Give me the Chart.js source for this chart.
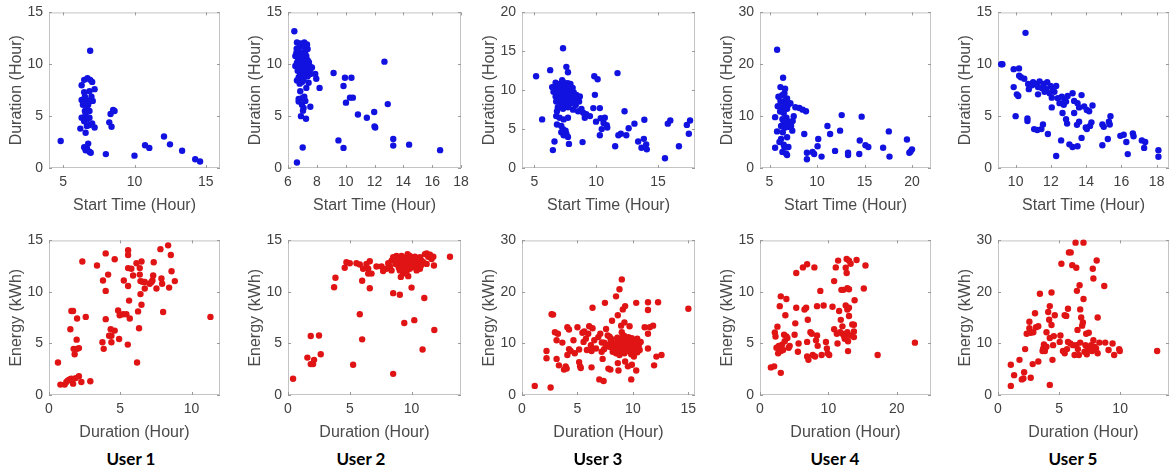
<!DOCTYPE html>
<html>
<head>
<meta charset="utf-8">
<script src="https://cdn.jsdelivr.net/npm/chart.js@4.4.1/dist/chart.umd.min.js"></script>
<style>
  body { margin: 0; background: #fff; width: 1169px; height: 472px; overflow: hidden; position: relative; }
  canvas { position: absolute; }
  .user { position: absolute; top: 448px; transform: translateX(-50%); font-family: Lato, "Open Sans", sans-serif; font-weight: bold; font-size: 17px; color: #000; white-space: nowrap; }
</style>
</head>
<body>
<script>
// ---- data: [start hour, duration hour] (top row) ----
const user1Start = [[4.82,2.6],[6.89,11.3],[6.29,7.97],[6.47,8.5],[6.7,8.65],[6.89,8.5],[7.03,8.3],[6.84,7.4],[7.2,7.6],[6.47,7.3],[6.29,6.56],[6.43,6.4],[6.66,6.53],[6.84,6.4],[7.07,6.47],[6.38,6.1],[6.66,5.8],[6.84,5.5],[6.57,5.15],[6.29,4.84],[6.66,4.7],[6.84,4.84],[6.47,4.5],[6.2,3.8],[6.66,4.06],[7.03,4.3],[7.2,3.9],[6.57,3.4],[6.84,4.15],[6.47,2.0],[6.75,2.35],[6.66,1.9],[6.84,1.56],[6.93,1.47],[6.57,1.7],[6.52,5.5],[6.75,6.1],[6.52,6.87],[6.98,6.87],[8.5,5.6],[8.6,5.5],[8.32,5.2],[8.23,4.4],[8.39,3.97],[7.99,1.34],[10.0,1.19],[10.74,2.19],[11.04,1.94],[12.07,3.03],[12.49,2.28],[13.34,1.66],[14.26,0.84],[14.6,0.63]];
const user2Start = [[6.44,13.19],[6.62,0.53],[7.02,1.97],[6.9,5.0],[7.25,4.75],[7.55,5.9],[6.62,12.1],[6.85,12.0],[7.13,12.1],[7.32,11.9],[6.74,11.56],[6.58,11.1],[6.97,11.1],[7.2,11.25],[6.81,10.6],[7.08,10.47],[7.36,10.4],[6.62,10.16],[6.85,9.84],[7.2,10.0],[7.5,9.84],[7.66,9.69],[6.67,9.38],[6.97,9.22],[7.27,9.38],[7.55,9.06],[6.74,8.75],[7.08,8.6],[7.36,8.84],[6.62,8.44],[6.97,8.28],[7.43,8.22],[6.85,10.3],[7.13,9.7],[6.74,9.7],[6.51,10.8],[7.27,10.8],[7.04,11.7],[7.36,11.47],[6.85,9.06],[7.15,8.97],[7.55,9.53],[6.81,8.13],[6.51,9.84],[6.9,10.8],[7.08,10.94],[6.76,10.16],[7.27,10.16],[7.0,9.53],[7.32,9.22],[6.95,11.8],[7.18,10.6],[6.7,10.5],[7.4,9.5],[6.9,9.0],[7.05,8.45],[6.6,11.5],[7.45,10.2],[6.85,7.4],[6.74,6.66],[6.97,6.72],[7.13,6.88],[6.74,6.4],[6.97,6.1],[7.08,5.78],[7.04,5.53],[7.2,6.47],[7.27,7.72],[7.89,9.06],[7.96,8.6],[8.19,7.72],[9.16,9.16],[9.85,7.9],[9.95,8.7],[10.4,8.7],[10.02,6.3],[10.3,6.78],[10.5,6.78],[10.85,5.16],[11.47,4.84],[11.98,5.4],[12.0,4.0],[12.05,3.9],[12.69,10.25],[12.92,6.16],[9.5,2.66],[9.85,1.94],[13.3,2.8],[13.3,2.16],[14.4,2.25],[16.55,1.72]];
const user3Start = [[5.14,11.8],[5.63,6.25],[6.28,12.58],[6.5,2.3],[6.63,3.4],[7.32,15.4],[7.59,13.0],[7.72,12.3],[6.44,10.4],[6.72,10.96],[7.04,10.8],[7.37,11.0],[7.59,10.6],[7.92,10.8],[6.55,9.8],[6.9,10.1],[7.26,9.9],[7.53,9.6],[7.86,9.9],[8.19,9.7],[6.72,9.2],[7.04,9.0],[7.45,8.9],[7.8,9.0],[8.08,8.75],[8.46,8.96],[6.77,8.54],[7.18,8.3],[7.59,8.1],[8.0,8.3],[8.35,8.1],[8.62,8.54],[6.9,7.8],[7.32,7.6],[7.72,7.8],[8.13,7.5],[8.54,7.3],[8.81,7.6],[7.04,10.4],[7.45,10.3],[7.18,9.4],[7.59,9.3],[8.08,9.5],[6.55,10.3],[8.68,9.2],[7.15,10.6],[7.7,9.5],[7.4,8.6],[8.3,8.5],[6.95,9.6],[7.8,10.2],[7.0,10.2],[7.3,10.5],[7.6,10.0],[7.9,9.4],[8.2,9.0],[7.1,9.3],[7.5,8.8],[7.9,8.6],[6.9,10.7],[7.25,11.3],[7.7,10.9],[8.1,10.3],[8.4,9.4],[7.0,8.9],[6.83,7.3],[6.77,6.67],[7.04,6.46],[7.37,6.25],[7.72,6.46],[6.83,5.6],[7.18,5.4],[7.32,5.0],[7.53,4.8],[7.18,4.6],[7.59,4.4],[7.72,4.0],[7.8,3.1],[7.37,4.2],[8.95,7.1],[9.2,6.9],[9.08,6.46],[9.5,6.67],[8.9,3.33],[9.85,11.8],[10.12,11.4],[9.9,9.4],[9.77,7.7],[10.3,7.7],[9.99,5.96],[10.37,6.4],[10.6,5.8],[10.7,6.46],[10.45,5.0],[10.3,4.2],[10.86,5.5],[10.9,5.2],[11.73,12.2],[11.54,2.8],[11.8,4.2],[12.0,4.4],[12.3,7.3],[12.44,4.2],[12.63,5.1],[13.1,5.7],[13.4,3.4],[13.67,2.6],[13.86,3.75],[13.9,6.2],[14.05,3.04],[14.1,2.4],[15.57,1.25],[15.8,5.7],[16.0,6.1],[16.7,2.8],[17.34,5.54],[17.5,4.4],[17.6,6.1]];
const user4Start = [[5.8,22.8],[5.59,3.9],[5.59,9.8],[6.43,17.4],[6.15,15.6],[6.64,15.3],[5.94,13.75],[6.33,14.06],[6.57,14.4],[6.85,13.4],[6.15,12.9],[6.5,12.8],[5.87,11.9],[6.22,11.7],[6.64,12.06],[6.99,12.2],[7.2,12.5],[6.12,10.9],[6.5,10.6],[6.85,11.4],[6.36,9.4],[6.78,9.7],[6.5,8.75],[6.99,8.56],[6.22,8.1],[6.64,7.8],[6.99,7.94],[7.27,8.1],[5.8,7.06],[6.4,6.9],[6.85,5.94],[6.22,5.6],[6.05,5.0],[6.5,4.5],[6.99,4.06],[6.36,3.1],[6.74,2.8],[6.85,2.5],[6.57,4.06],[6.7,13.0],[6.45,11.2],[6.9,9.0],[7.55,10.0],[7.44,9.06],[7.4,7.2],[7.72,11.7],[8.14,11.56],[8.49,11.25],[8.84,10.94],[8.66,6.56],[8.94,2.94],[8.94,1.69],[9.53,3.1],[9.7,2.7],[10.06,4.2],[10.13,5.6],[10.48,2.2],[11.1,8.1],[11.38,6.56],[11.9,3.3],[12.43,7.2],[12.6,10.2],[13.27,2.94],[13.27,2.5],[14.45,2.7],[14.5,5.3],[14.7,9.9],[15.1,4.4],[15.4,4.06],[16.96,3.9],[17.56,7.06],[17.63,2.2],[19.47,5.5],[19.72,2.94],[20.0,3.6],[19.85,3.2]];
const user5Start = [[9.18,10.0],[9.25,10.0],[10.56,13.03],[9.89,9.53],[10.19,9.6],[10.2,8.9],[9.89,7.8],[10.0,5.0],[10.3,8.75],[10.07,7.1],[10.15,6.94],[10.49,8.6],[10.71,8.1],[10.99,8.28],[11.18,8.1],[11.36,8.34],[10.75,7.6],[10.93,7.97],[11.27,7.8],[11.6,8.1],[11.79,8.28],[11.5,7.7],[11.74,7.6],[11.98,7.9],[12.1,7.7],[12.2,7.34],[11.93,7.2],[11.64,7.34],[11.27,7.1],[12.05,6.78],[12.3,7.9],[12.05,5.84],[10.67,4.78],[10.67,4.53],[11.05,3.75],[11.23,3.66],[11.46,3.75],[11.55,4.2],[11.83,3.28],[12.3,1.16],[12.58,2.66],[13.05,2.28],[13.23,2.03],[13.51,2.1],[13.74,2.9],[12.39,6.72],[12.62,6.88],[12.77,6.56],[12.49,6.25],[12.73,6.1],[12.86,6.4],[12.95,6.94],[12.66,5.3],[12.86,4.7],[12.92,4.28],[13.23,7.2],[13.74,7.03],[13.32,6.47],[13.51,6.25],[13.6,5.84],[13.32,5.3],[13.89,5.94],[14.04,5.6],[14.17,5.47],[14.36,6.03],[13.48,4.16],[13.6,4.47],[13.98,3.9],[14.04,3.75],[14.22,4.06],[14.3,4.4],[14.92,4.2],[15.0,3.97],[14.92,2.19],[15.23,2.8],[15.29,4.47],[15.38,5.0],[15.34,4.2],[15.94,3.1],[16.13,3.2],[16.28,2.5],[16.36,1.34],[16.65,3.34],[16.69,3.06],[17.16,2.66],[17.35,2.5],[17.29,1.94],[18.1,1.72],[18.1,1.09]];

// ---- data: [duration hour, energy kWh] (bottom row) ----
const user1Energy = [[0.63,3.16],[0.8,1.01],[1.1,1.01],[1.22,1.26],[1.45,1.52],[1.69,1.1],[1.87,1.64],[2.1,1.83],[2.27,1.26],[2.9,1.33],[1.33,1.42],[1.57,1.58],[1.5,6.38],[1.57,8.15],[1.69,8.15],[1.73,4.48],[1.8,3.95],[1.97,4.48],[2.1,4.55],[1.94,5.37],[1.97,7.42],[2.34,12.95],[2.58,7.58],[3.37,12.57],[3.75,5.12],[3.84,4.48],[3.79,11.11],[3.98,13.74],[3.98,10.1],[3.98,7.36],[4.15,11.68],[4.22,5.75],[4.38,5.75],[4.33,6.38],[4.61,6.25],[4.38,5.12],[4.61,13.17],[4.85,8.21],[4.96,7.74],[4.92,5.43],[5.2,7.83],[5.25,11.11],[5.43,7.83],[5.53,4.89],[5.55,12.31],[5.55,10.58],[5.55,14.05],[5.55,13.58],[5.62,9.16],[5.67,7.42],[5.78,12.25],[5.9,11.59],[6.18,3.16],[6.14,12.79],[6.25,8.11],[6.32,6.47],[6.37,12.31],[6.37,11.68],[6.42,9.79],[6.49,8.75],[6.42,11.05],[6.49,12.95],[6.56,10.99],[6.72,10.96],[6.72,10.33],[7.07,10.8],[7.26,11.11],[7.31,11.59],[7.35,12.88],[7.54,10.33],[7.19,10.96],[7.82,14.15],[7.89,11.3],[7.94,10.8],[8.01,8.05],[8.36,14.52],[8.43,10.42],[8.55,13.58],[8.6,12.0],[8.83,11.05],[11.33,7.58]];
const user2Energy = [[0.41,1.58],[1.57,3.63],[1.84,3.0],[2.03,3.0],[2.11,3.41],[1.84,5.72],[2.51,5.78],[2.65,3.95],[3.73,10.45],[3.84,11.37],[4.59,12.35],[4.73,12.88],[5.0,12.79],[5.27,2.94],[5.54,12.79],[5.81,12.66],[5.81,7.83],[6.0,11.08],[6.0,5.4],[6.08,12.25],[6.35,12.72],[6.49,12.25],[6.49,11.78],[6.62,12.98],[6.62,10.36],[6.76,11.78],[7.16,12.47],[7.57,12.47],[7.7,12.03],[7.97,12.25],[8.24,12.47],[8.38,12.09],[8.51,9.88],[8.51,2.05],[9.05,9.73],[9.41,6.98],[9.73,11.53],[10.0,10.42],[10.22,7.26],[11.03,9.41],[10.89,4.42],[11.84,6.31],[11.81,12.57],[13.11,13.42],[8.65,13.2],[8.78,12.88],[8.92,13.36],[9.05,13.04],[9.19,13.5],[9.32,13.2],[9.46,12.88],[9.59,13.36],[9.73,13.04],[9.86,13.5],[10.0,13.2],[10.14,12.88],[10.27,13.42],[10.41,13.04],[10.54,12.72],[8.92,12.57],[9.19,12.41],[9.46,12.25],[9.73,12.47],[9.05,12.09],[9.32,11.78],[9.59,11.94],[9.86,12.25],[10.14,12.41],[8.78,13.5],[8.38,13.04],[8.51,13.36],[8.11,12.79],[9.19,12.88],[9.51,12.66],[9.95,12.72],[9.68,13.67],[10.27,12.57],[10.68,13.36],[10.81,13.04],[11.08,13.67],[11.22,13.74],[11.35,13.42],[11.49,13.61],[11.62,13.2],[11.76,13.42],[10.95,12.88],[11.22,12.72],[9.13,11.46],[8.97,12.35],[9.41,13.11],[8.7,12.72],[9.78,13.29],[10.05,13.04],[10.49,13.2],[10.68,12.25],[10.41,12.09],[10.76,12.57],[8.86,13.11],[9.27,12.66],[9.54,13.04],[9.27,13.29],[9.65,12.79],[9.92,12.47]];
const user3Energy = [[1.15,1.77],[2.58,1.45],[2.21,8.53],[2.21,7.14],[2.67,15.67],[2.8,15.6],[2.97,12.19],[3.24,11.88],[3.12,10.61],[3.12,7.01],[3.33,5.75],[3.64,10.17],[3.79,4.93],[3.94,5.56],[4.03,5.12],[4.09,13.14],[4.24,12.7],[4.09,7.77],[4.24,8.91],[4.39,8.53],[4.64,10.61],[4.76,8.09],[5.0,13.14],[5.15,8.84],[5.15,6.38],[5.24,5.56],[5.3,5.24],[5.45,12.07],[5.55,10.3],[5.61,12.32],[5.76,10.93],[5.85,8.72],[5.97,11.88],[6.06,13.33],[6.21,9.67],[6.27,8.53],[6.36,12.95],[6.27,5.37],[6.36,16.93],[6.52,10.61],[6.67,9.03],[6.88,11.24],[7.06,11.88],[6.97,3.03],[7.18,8.4],[7.27,7.01],[7.36,2.72],[7.42,10.17],[7.48,17.88],[7.58,12.82],[7.73,11.56],[7.67,9.67],[7.79,5.12],[7.88,9.35],[7.97,4.93],[8.03,10.93],[8.12,14.4],[8.18,8.4],[8.27,9.67],[8.33,9.98],[8.39,8.91],[8.48,19.14],[8.58,10.93],[8.64,6.19],[8.64,15.48],[8.7,4.74],[8.79,20.53],[8.79,10.3],[8.88,8.4],[8.94,13.46],[9.0,12.19],[9.0,22.43],[9.09,16.61],[9.09,11.24],[9.18,9.35],[9.24,14.09],[9.3,17.25],[9.3,6.51],[9.39,9.98],[9.48,8.72],[9.55,5.56],[9.6,11.24],[9.7,13.33],[9.79,8.4],[9.85,9.67],[9.85,3.03],[9.91,5.87],[10.0,10.61],[10.09,7.45],[10.15,9.35],[10.3,4.74],[10.3,17.88],[10.39,10.93],[10.52,9.67],[10.61,8.72],[10.7,10.3],[8.33,8.91],[8.48,8.09],[8.7,8.53],[8.88,9.16],[9.09,8.91],[9.24,8.09],[9.39,8.53],[9.55,9.35],[9.7,8.91],[9.85,7.9],[8.55,9.67],[9.03,8.21],[9.33,9.35],[9.64,10.3],[10.0,8.53],[8.79,7.77],[9.18,10.61],[9.48,10.8],[9.79,9.98],[8.94,9.98],[7.2,10.2],[7.6,9.6],[8.0,10.5],[8.4,9.8],[8.6,11.1],[8.9,10.8],[9.2,11.5],[9.5,10.4],[9.9,11.0],[10.2,10.0],[10.5,9.2],[7.4,8.9],[8.1,9.2],[8.8,9.5],[9.6,9.0],[10.4,8.3],[7.9,11.3],[9.1,10.1],[11.06,13.14],[11.36,18.0],[11.36,16.49],[11.36,11.88],[11.36,9.03],[11.52,13.14],[11.82,13.46],[11.91,5.75],[12.12,7.45],[12.27,18.0],[12.58,7.77],[15.0,16.74]];
const user4Energy = [[1.59,2.68],[2.07,2.78],[2.17,6.06],[2.27,5.68],[2.55,6.63],[2.41,4.58],[2.65,4.04],[2.75,4.77],[2.89,8.62],[3.04,2.15],[3.04,9.57],[3.04,4.26],[3.23,4.89],[3.37,4.36],[3.52,5.84],[3.61,5.21],[3.71,7.74],[3.86,5.68],[3.86,9.31],[4.0,5.53],[4.19,4.58],[4.34,4.77],[5.06,5.84],[5.16,6.95],[5.3,11.84],[5.3,8.46],[5.54,4.2],[5.64,4.99],[6.27,12.38],[6.51,8.3],[6.75,8.46],[6.89,12.69],[6.89,3.73],[6.89,5.15],[6.99,7.3],[7.08,3.41],[7.37,6.09],[7.57,5.94],[7.71,3.88],[7.95,12.38],[8.05,3.73],[8.19,5.3],[8.34,8.62],[8.34,5.78],[8.43,4.77],[8.82,10.1],[9.01,3.88],[9.3,8.68],[9.64,5.15],[9.78,4.52],[9.88,4.04],[10.12,3.88],[10.6,8.56],[10.84,11.05],[10.84,6.38],[11.08,12.38],[11.23,5.94],[11.33,4.99],[11.42,13.04],[11.57,8.15],[11.71,6.09],[11.81,7.29],[11.9,10.2],[12.05,6.66],[12.05,5.94],[12.19,10.2],[12.29,5.72],[12.39,5.46],[12.53,8.68],[12.53,12.35],[12.67,13.2],[12.67,11.84],[12.77,10.36],[12.77,8.3],[12.77,6.09],[12.87,5.21],[12.87,4.26],[13.01,10.26],[13.01,8.46],[13.01,13.04],[13.01,7.67],[13.16,5.78],[13.25,12.73],[13.49,6.85],[13.73,6.16],[13.73,6.82],[13.73,5.62],[13.83,9.2],[14.12,13.1],[15.18,10.33],[15.42,12.57],[17.2,3.88],[22.65,5.08]];
const user5Energy = [[1.05,1.77],[1.05,5.87],[1.32,3.85],[1.76,6.82],[1.95,3.03],[2.08,3.22],[2.14,4.42],[2.22,8.91],[2.35,11.88],[2.57,14.21],[2.57,12.95],[2.68,12.07],[2.68,3.35],[2.84,6.0],[2.89,12.19],[3.03,15.86],[3.11,13.14],[3.3,13.33],[3.3,6.51],[3.43,19.65],[3.65,8.53],[3.7,9.03],[3.76,9.79],[3.84,8.53],[3.97,9.35],[3.97,12.19],[4.11,16.11],[4.19,14.59],[4.24,17.25],[4.24,11.05],[4.24,1.96],[4.38,19.9],[4.38,13.58],[4.46,6.82],[4.51,9.67],[4.57,11.43],[4.65,15.48],[5.05,10.3],[5.11,11.56],[5.19,25.46],[5.32,8.53],[5.46,8.09],[5.46,15.48],[5.59,15.35],[5.65,8.91],[5.73,10.3],[5.73,16.74],[5.81,27.67],[5.95,27.67],[5.92,9.98],[6.08,25.2],[6.14,9.67],[6.27,7.77],[6.35,29.56],[6.41,9.67],[6.41,24.7],[6.46,20.21],[6.51,12.63],[6.54,8.91],[6.62,7.77],[6.68,21.29],[6.73,10.17],[6.73,16.61],[6.81,15.04],[6.89,13.46],[6.95,14.09],[7.0,29.56],[7.0,18.63],[7.08,8.4],[7.16,9.67],[7.22,11.88],[7.27,7.9],[7.35,9.03],[7.43,12.07],[7.54,8.72],[7.62,9.67],[7.7,8.53],[7.76,24.5],[7.81,22.62],[7.81,10.61],[7.89,9.35],[8.03,9.03],[8.08,26.09],[8.16,8.09],[8.16,15.04],[8.3,10.17],[8.7,21.16],[8.78,10.17],[9.05,8.72],[9.38,9.98],[9.51,7.77],[9.92,8.91],[9.97,8.53],[13.03,8.53]];

// ---- axes: limits and tick values per panel ----
const topXMin = [4, 6, 4, 4, 9];
const topXMax = [16, 18, 18, 22, 18.7];
const topXTicks = [[5,10,15],[6,8,10,12,14,16,18],[5,10,15],[5,10,15,20],[10,12,14,16,18]];
const topYMax = [15, 15, 20, 30, 15];
const topYTicks = [[0,5,10,15],[0,5,10,15],[0,5,10,15,20],[0,10,20,30],[0,5,10,15]];
const botXMax = [12, 14, 15.6, 25, 14];
const botXTicks = [[0,5,10],[0,5,10],[0,5,10,15],[0,10,20],[0,5,10]];
const botYMax = [15, 15, 30, 15, 30];
const botYTicks = [[0,5,10,15],[0,5,10,15],[0,10,20,30],[0,5,10,15],[0,10,20,30]];
const userLabels = ['User 1', 'User 2', 'User 3', 'User 4', 'User 5'];

const startData = [user1Start, user2Start, user3Start, user4Start, user5Start];
const energyData = [user1Energy, user2Energy, user3Energy, user4Energy, user5Energy];

// ---- layout ----
const colX = [[49,171],[288,173],[522,173],[760,171],[998,171]];
const rowY = [[8,160],[236,159]];
const labelX = [131, 361, 598, 835, 1073];
const AXIS_W = 50, AXIS_H = 50, PAD_T = 10, PAD_R = 14;
const FONT = '"Liberation Sans", Arial, sans-serif';

const boxPlugin = {
  id: 'boxPlugin',
  beforeDatasetsDraw(chart) {
    const { ctx, chartArea: a, scales: { x, y } } = chart;
    ctx.save();
    ctx.lineWidth = 1;
    ctx.strokeStyle = '#c4c4c4';
    ctx.strokeRect(a.left + 0.5, a.top + 0.5, a.width - 1, a.height - 1);
    ctx.strokeStyle = '#9a9a9a';
    ctx.beginPath();
    x.ticks.forEach(t => {
      const px = Math.round(x.getPixelForValue(t.value)) + 0.5;
      ctx.moveTo(px, a.bottom); ctx.lineTo(px, a.bottom - 3);
      ctx.moveTo(px, a.top); ctx.lineTo(px, a.top + 3);
    });
    y.ticks.forEach(t => {
      const py = Math.round(y.getPixelForValue(t.value)) + 0.5;
      ctx.moveTo(a.left, py); ctx.lineTo(a.left + 3, py);
      ctx.moveTo(a.right, py); ctx.lineTo(a.right - 3, py);
    });
    ctx.stroke();
    ctx.restore();
  }
};

function makePanel(rect, points, color, xMin, xMax, xTicks, yMax, yTicks, xTitle, yTitle) {
  const c = document.createElement('canvas');
  c.width = AXIS_W + rect[2] + PAD_R;
  c.height = PAD_T + rect[3] + AXIS_H;
  c.style.left = (rect[0] - AXIS_W) + 'px';
  c.style.top = (rect[1] - PAD_T) + 'px';
  document.body.appendChild(c);

  new Chart(c, {
    type: 'scatter',
    data: {
      datasets: [{
        data: points.map(p => ({ x: p[0], y: p[1] })),
        backgroundColor: color,
        borderWidth: 0,
        pointRadius: 3.2,
        clip: false
      }]
    },
    options: {
      responsive: false,
      animation: false,
      layout: { padding: { top: PAD_T, right: PAD_R, left: 0, bottom: 0 } },
      plugins: { legend: { display: false }, tooltip: { enabled: false } },
      scales: {
        x: {
          type: 'linear', min: xMin, max: xMax,
          afterBuildTicks: s => { s.ticks = xTicks.map(v => ({ value: v })); },
          afterFit: s => { s.height = AXIS_H; },
          grid: { display: false, drawTicks: false },
          border: { display: false },
          ticks: { autoSkip: false, maxRotation: 0, padding: 6, color: '#404040', font: { family: FONT, size: 14 } },
          title: { display: true, text: xTitle, color: '#4a4a4a', font: { family: FONT, size: 16 }, padding: { top: 0, bottom: 3 } }
        },
        y: {
          type: 'linear', min: 0, max: yMax,
          afterBuildTicks: s => { s.ticks = yTicks.map(v => ({ value: v })); },
          afterFit: s => { s.width = AXIS_W; },
          grid: { display: false, drawTicks: false },
          border: { display: false },
          ticks: { autoSkip: false, padding: 6, color: '#404040', font: { family: FONT, size: 14 } },
          title: { display: true, text: yTitle, color: '#4a4a4a', font: { family: FONT, size: 16 }, padding: { top: 8, bottom: 0 } }
        }
      }
    },
    plugins: [boxPlugin]
  });
}

for (let i = 0; i < 5; i++) {
  const r1 = [colX[i][0], rowY[0][0], colX[i][1], rowY[0][1]];
  makePanel(r1, startData[i], '#1212e0', topXMin[i], topXMax[i], topXTicks[i], topYMax[i], topYTicks[i], 'Start Time (Hour)', 'Duration (Hour)');
  const r2 = [colX[i][0], rowY[1][0], colX[i][1], rowY[1][1]];
  makePanel(r2, energyData[i], '#e01414', 0, botXMax[i], botXTicks[i], botYMax[i], botYTicks[i], 'Duration (Hour)', 'Energy (kWh)');

  const lab = document.createElement('div');
  lab.className = 'user';
  lab.style.left = labelX[i] + 'px';
  lab.textContent = userLabels[i];
  document.body.appendChild(lab);
}
</script>
</body>
</html>
